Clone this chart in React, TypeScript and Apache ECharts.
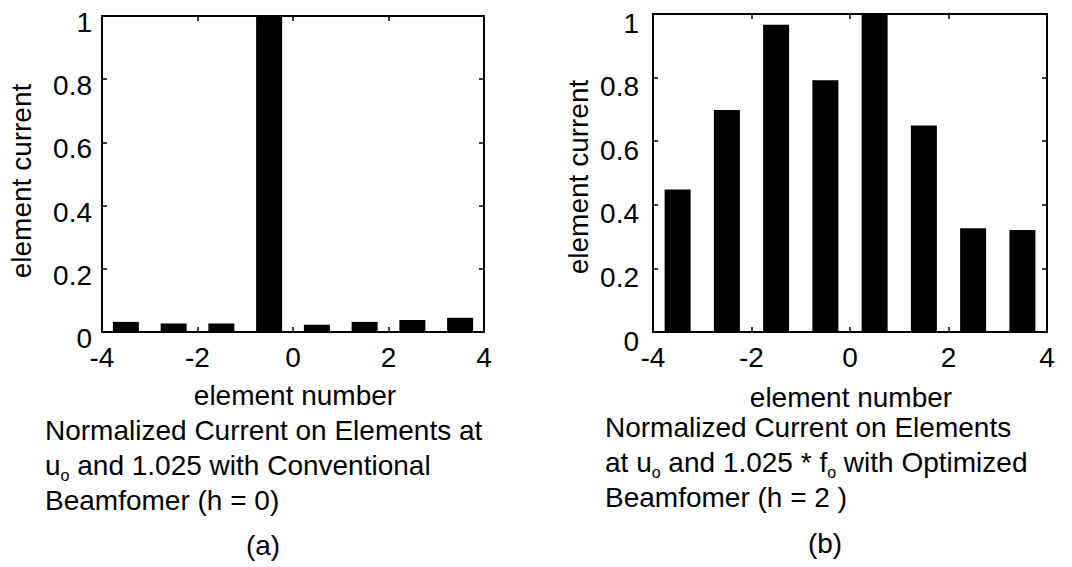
import React, { useEffect, useRef } from "react";
import * as echarts from "echarts";

const elementNumbers = [-3.5, -2.5, -1.5, -0.5, 0.5, 1.5, 2.5, 3.5];
const conventionalCurrent = [0.032, 0.027, 0.027, 1.0, 0.023, 0.032, 0.038, 0.045];
const optimizedCurrent = [0.448, 0.698, 0.966, 0.792, 1.0, 0.649, 0.326, 0.321];
const xTicks = { min: -4, max: 4, interval: 2 };
const yTicks = { min: 0, max: 1, interval: 0.2 };
const xTitle = "element number";
const yTitle = "element current";
const captionA = [
  "{t|Normalized Current on Elements at}",
  "{t|u}{s|o}{t| and 1.025 with Conventional}",
  "{t|Beamfomer (h = 0)}",
];
const captionB = [
  "{t|Normalized Current on Elements}",
  "{t|at u}{s|o}{t| and 1.025 * f}{s|o}{t| with Optimized}",
  "{t|Beamfomer (h = 2 )}",
];
const panelLabels = ["(a)", "(b)"];

const FONT = "'Liberation Sans', Arial, sans-serif";

export default function App() {
  const ref = useRef<HTMLDivElement>(null);
  useEffect(() => {
    if (!ref.current) return;
    const chart = echarts.init(ref.current, undefined, { renderer: "svg" });
    const grids = [
      { left: 102, top: 16, width: 382, height: 316 },
      { left: 653, top: 14, width: 394, height: 318 },
    ];
    const lineStyle = { color: "#000", width: 2 };
    const tick = { show: true, inside: true, length: 5, lineStyle: { color: "#000", width: 1.5 } };
    const xAxes: any[] = [];
    const yAxes: any[] = [];
    grids.forEach((g, i) => {
      xAxes.push({
        gridIndex: i, type: "value", position: "bottom", ...xTicks,
        axisLine: { show: true, onZero: false, lineStyle },
        axisTick: tick,
        axisLabel: { show: true, color: "#000", fontSize: 28, fontFamily: FONT, margin: 11 },
        splitLine: { show: false },
      });
      xAxes.push({
        gridIndex: i, type: "value", position: "top", ...xTicks,
        axisLine: { show: true, onZero: false, lineStyle },
        axisTick: tick,
        axisLabel: { show: false },
        splitLine: { show: false },
      });
      yAxes.push({
        gridIndex: i, type: "value", position: "left", ...yTicks,
        axisLine: { show: true, onZero: false, lineStyle },
        axisTick: tick,
        axisLabel: {
          show: true, color: "#000", fontSize: 28, fontFamily: FONT,
          margin: i === 0 ? 10 : 14, verticalAlign: "top", lineHeight: i === 0 ? 13 : 18,
        },
        splitLine: { show: false },
      });
      yAxes.push({
        gridIndex: i, type: "value", position: "right", ...yTicks,
        axisLine: { show: true, onZero: false, lineStyle },
        axisTick: tick,
        axisLabel: { show: false },
        splitLine: { show: false },
      });
    });
    const makeData = (vals: number[]) => elementNumbers.map((x, k) => [x, vals[k]]);
    const rich = {
      t: { fontSize: 28, fontFamily: FONT, color: "#000", lineHeight: 35 },
      s: { fontSize: 16, fontFamily: FONT, color: "#000", lineHeight: 4, verticalAlign: "bottom" },
    };
    const textStyle = (extra: any) => ({ fill: "#000", font: `28px ${FONT}`, ...extra });
    chart.setOption({
      animation: false,
      backgroundColor: "#fff",
      grid: grids.map((g) => ({ ...g, containLabel: false })),
      xAxis: xAxes,
      yAxis: yAxes,
      series: [
        {
          type: "bar", xAxisIndex: 0, yAxisIndex: 0, data: makeData(conventionalCurrent),
          barWidth: 26, itemStyle: { color: "#000" }, silent: true,
        },
        {
          type: "bar", xAxisIndex: 2, yAxisIndex: 2, data: makeData(optimizedCurrent),
          barWidth: 26, itemStyle: { color: "#000" }, silent: true,
        },
      ],
      graphic: [
        { type: "text", x: 21, y: 181, rotation: Math.PI / 2, style: textStyle({ text: yTitle, align: "center", verticalAlign: "middle" }) },
        { type: "text", x: 578, y: 177, rotation: Math.PI / 2, style: textStyle({ text: yTitle, align: "center", verticalAlign: "middle" }) },
        { type: "text", x: 295, y: 395, style: textStyle({ text: xTitle, align: "center", verticalAlign: "middle" }) },
        { type: "text", x: 851, y: 397, style: textStyle({ text: xTitle, align: "center", verticalAlign: "middle" }) },
        { type: "text", x: 45, y: 413, style: { text: captionA.join("\n"), rich, fill: "#000" } },
        { type: "text", x: 605, y: 410, style: { text: captionB.join("\n"), rich, fill: "#000" } },
        { type: "text", x: 263, y: 545, style: textStyle({ text: panelLabels[0], align: "center", verticalAlign: "middle" }) },
        { type: "text", x: 825, y: 543, style: textStyle({ text: panelLabels[1], align: "center", verticalAlign: "middle" }) },
      ],
    });
    return () => chart.dispose();
  }, []);
  return (
    <div
      ref={ref}
      style={{ position: "fixed", left: 0, top: 0, width: 1072, height: 567, background: "#fff" }}
    />
  );
}
